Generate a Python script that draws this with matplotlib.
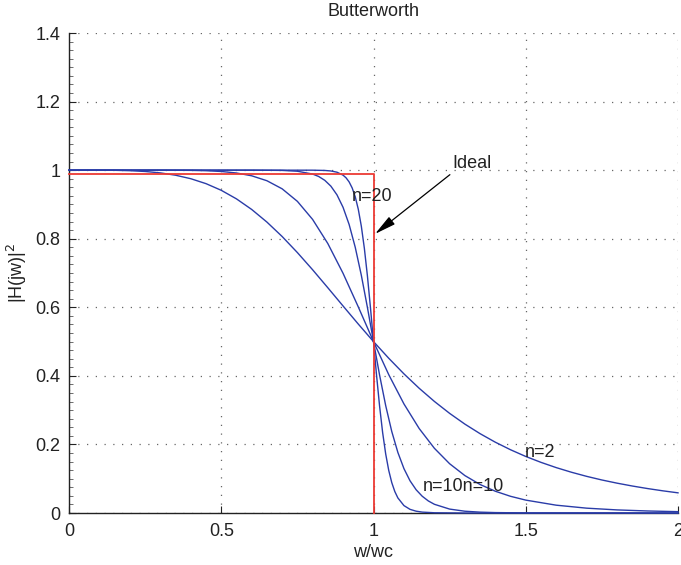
import matplotlib
matplotlib.use("Agg")
import matplotlib.pyplot as plt
from matplotlib.ticker import MultipleLocator

plt.rcParams['font.family'] = ['Liberation Sans', 'DejaVu Sans']

# ---- data ----
x_n2 = [0.0, 0.1, 0.15, 0.2, 0.25, 0.3, 0.35, 0.4, 0.45, 0.5, 0.55, 0.6, 0.65, 0.7, 0.75,
        0.8, 0.85, 0.9, 0.95, 1.0, 1.05, 1.1, 1.15, 1.2, 1.25, 1.3, 1.35, 1.4, 1.45,
        1.5, 1.55, 1.6, 1.65, 1.7, 1.75, 1.8, 1.85, 1.9, 1.95, 2.0]
y_n2 = [1.0, 0.9999, 0.9995, 0.9984, 0.9961, 0.9920, 0.9852, 0.9750, 0.9606, 0.9412, 0.9162,
        0.8853, 0.8485, 0.8064, 0.7596, 0.7095, 0.6570, 0.6038, 0.5511, 0.5, 0.4514,
        0.4058, 0.3638, 0.3254, 0.2906, 0.2593, 0.2314, 0.2065, 0.1845, 0.1649, 0.1477,
        0.1324, 0.1189, 0.1069, 0.0963, 0.0870, 0.0787, 0.0713, 0.0647, 0.0588]

x_n4 = [0.0, 0.3, 0.4, 0.45, 0.5, 0.55, 0.6, 0.65, 0.7, 0.75, 0.8, 0.85, 0.9, 0.95, 1.0,
        1.05, 1.1, 1.15, 1.2, 1.25, 1.3, 1.35, 1.4, 1.45, 1.5, 1.6, 1.7, 1.8, 1.9, 2.0]
y_n4 = [1.0, 0.9999, 0.9993, 0.9983, 0.9961, 0.9917, 0.9835, 0.9691, 0.9455, 0.9090,
        0.8563, 0.7859, 0.6991, 0.6012, 0.5, 0.4036, 0.3181, 0.2464, 0.1887, 0.1437,
        0.1092, 0.0831, 0.0635, 0.0487, 0.0376, 0.0228, 0.0141, 0.0090, 0.0059, 0.0039]

x_n10 = [0.0, 0.5, 0.6, 0.7, 0.75, 0.8, 0.82, 0.84, 0.86, 0.88, 0.9, 0.92, 0.94, 0.96, 0.98,
         1.0, 1.02, 1.04, 1.06, 1.08, 1.1, 1.12, 1.14, 1.16, 1.18, 1.2, 1.25, 1.3, 1.35,
         1.4, 1.5, 2.0]
y_n10 = [1.0, 1.0, 1.0, 0.9992, 0.9968, 0.9886, 0.9815, 0.9703, 0.9533, 0.9280, 0.8916,
         0.8414, 0.7751, 0.6935, 0.5997, 0.5, 0.4022, 0.3134, 0.2377, 0.1767, 0.1294,
         0.0939, 0.0678, 0.0489, 0.0352, 0.0254, 0.0114, 0.0052, 0.0025, 0.0012, 0.0003,
         0.0]

x_n20 = [0.0, 0.8, 0.84, 0.86, 0.88, 0.9, 0.91, 0.92, 0.93, 0.94, 0.95, 0.96, 0.97, 0.98,
         0.99, 1.0, 1.01, 1.02, 1.03, 1.04, 1.05, 1.06, 1.07, 1.08, 1.1, 1.12, 1.14, 1.16,
         1.2, 1.3, 2.0]
y_n20 = [1.0, 0.9999, 0.9991, 0.9976, 0.9940, 0.9854, 0.9775, 0.9656, 0.9480, 0.9224,
         0.8861, 0.8366, 0.7718, 0.6917, 0.5992, 0.5, 0.4018, 0.3117, 0.2346, 0.1724,
         0.1244, 0.0886, 0.0626, 0.0440, 0.0216, 0.0106, 0.0053, 0.0026, 0.0007, 0.0, 0.0]

x_ideal = [0.0, 1.0, 1.0]
y_ideal = [0.99, 0.99, 0.0]

x_ticks = [0, 0.5, 1, 1.5, 2]
x_ticklabels = ['0', '0.5', '1', '1.5', '2']
y_ticks = [0, 0.2, 0.4, 0.6, 0.8, 1.0, 1.2, 1.4]
y_ticklabels = ['0', '0.2', '0.4', '0.6', '0.8', '1', '1.2', '1.4']

curve_labels = [("n=20", 0.929, 0.924), ("n=10n=10", 1.163, 0.076), ("n=2", 1.498, 0.176)]

# ---- figure ----
W, H = 681, 565
fig = plt.figure(figsize=(W / 100, H / 100), dpi=100)
ax = fig.add_axes([69 / W, 1 - 513 / H, (678 - 69) / W, (513 - 33) / H])

blue = '#2a3ca8'
for xs, ys in [(x_n2, y_n2), (x_n4, y_n4), (x_n10, y_n10), (x_n20, y_n20)]:
    ax.plot(xs, ys, color=blue, lw=1.0, zorder=4, clip_on=False)
ax.plot(x_ideal, y_ideal, color='#ec3a34', lw=1.3, zorder=5, clip_on=False)

ax.set_xlim(0, 2)
ax.set_ylim(0, 1.4)
ax.set_xticks(x_ticks)
ax.set_xticklabels(x_ticklabels)
ax.set_yticks(y_ticks)
ax.set_yticklabels(y_ticklabels)
ax.yaxis.set_minor_locator(MultipleLocator(0.025))

for s in ['top', 'right']:
    ax.spines[s].set_visible(False)
for s in ['left', 'bottom']:
    ax.spines[s].set_color('#222222')
    ax.spines[s].set_linewidth(1.0)

ax.tick_params(axis='both', which='major', direction='in', length=5, width=0.8,
               labelsize=13, colors='#222222', pad=6)
ax.tick_params(axis='y', which='minor', direction='in', length=3, width=0.6, colors='#555555')
ax.tick_params(axis='x', which='major', pad=7)

ax.grid(True, which='major', color='#666666', linestyle=(0, (1, 6)), linewidth=0.9)
ax.set_axisbelow(True)

ax.set_title('Butterworth', fontsize=13, pad=12, color='#222222')
ax.set_xlabel('w/wc', fontsize=13, labelpad=3, color='#222222')
ax.set_ylabel(r'|H(jw)|$^2$', fontsize=13, labelpad=5, color='#222222')

for txt, tx, ty in curve_labels:
    ax.text(tx, ty, txt, fontsize=13, ha='left', va='center', color='#222222', zorder=6)

ax.annotate('Ideal', xy=(1.005, 0.814), xytext=(1.26, 1.018), fontsize=13,
            ha='left', va='center', color='#222222', zorder=6,
            arrowprops=dict(arrowstyle='-|>,head_length=1.0,head_width=0.22',
                            color='black', lw=0.9, shrinkA=0, shrinkB=0,
                            relpos=(0.0, 0.0)))

fig.savefig('out.png', dpi=100)
